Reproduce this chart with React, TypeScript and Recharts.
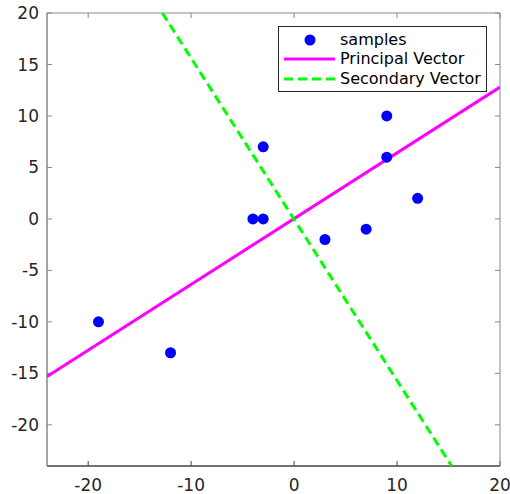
import { Scatter, ScatterChart, XAxis, YAxis } from 'recharts';

const sampleX = [-19, -12, -4, -3, -3, 3, 7, 9, 9, 12];
const sampleY = [-10, -13, 0, 0, 7, -2, -1, 6, 10, 2];
const principalX = [-24, 20];
const principalY = [-15.3, 12.8];
const secondaryX = [-12.8, 15.3];
const secondaryY = [20, -24];
const xTicks = [-20, -10, 0, 10, 20];
const yTicks = [-20, -15, -10, -5, 0, 5, 10, 15, 20];

const samples = sampleX.map((x, i) => ({ x, y: sampleY[i] }));
const principal = principalX.map((x, i) => ({ x, y: principalY[i] }));
const secondary = secondaryX.map((x, i) => ({ x, y: secondaryY[i] }));

const FONT = 'DejaVu Sans, sans-serif';
const tickStyle = { fontSize: 17, fill: '#262626', fontFamily: FONT };
const noLabel = () => <g />;
const noShape = () => <g />;

function Dot(props: { cx?: number; cy?: number }) {
  if (props.cx == null || props.cy == null) return null;
  return <circle cx={props.cx} cy={props.cy} r={5.5} fill="#0000ff" />;
}

function LegendBox() {
  const row = { display: 'flex', alignItems: 'center', height: 19.5 };
  return (
    <div
      style={{
        position: 'absolute',
        left: 278,
        top: 26,
        boxSizing: 'border-box',
        border: '1px solid #262626',
        background: '#fff',
        width: 209,
        height: 66,
        padding: '3px 0',
        fontFamily: FONT,
        fontSize: 16,
        color: '#000',
        lineHeight: 1,
      }}
    >
      <div style={row}>
        <svg width={61} height={14}>
          <circle cx={31} cy={7} r={5.5} fill="#0000ff" />
        </svg>
        <span>samples</span>
      </div>
      <div style={row}>
        <svg width={61} height={14}>
          <line x1={5} x2={56} y1={7} y2={7} stroke="#ff00ff" strokeWidth={3} />
        </svg>
        <span>Principal Vector</span>
      </div>
      <div style={row}>
        <svg width={61} height={14}>
          <line
            x1={5}
            x2={56}
            y1={7}
            y2={7}
            stroke="#00ff00"
            strokeWidth={3}
            strokeDasharray="9 5"
          />
        </svg>
        <span>Secondary Vector</span>
      </div>
    </div>
  );
}

export default function App() {
  return (
    <div
      style={{
        position: 'absolute',
        left: 0,
        top: 0,
        width: 510,
        height: 494,
        background: '#fff',
        overflow: 'hidden',
      }}
    >
      <ScatterChart
        width={510}
        height={494}
        margin={{ top: 13, right: 10, left: 0, bottom: 0 }}
      >
        <XAxis
          xAxisId="b"
          type="number"
          dataKey="x"
          domain={[-24, 20]}
          ticks={xTicks}
          allowDataOverflow
          height={28}
          tickLine={false}
          tickMargin={7}
          tick={tickStyle}
          stroke="#444"
        />
        <XAxis
          xAxisId="bm"
          type="number"
          dataKey="x"
          domain={[-24, 20]}
          ticks={xTicks}
          allowDataOverflow
          height={28}
          mirror
          tickSize={5}
          tick={noLabel}
          stroke="#444"
        />
        <XAxis
          xAxisId="t"
          orientation="top"
          type="number"
          dataKey="x"
          domain={[-24, 20]}
          ticks={xTicks}
          allowDataOverflow
          height={28}
          mirror
          tickSize={5}
          tick={noLabel}
          stroke="#888"
        />
        <YAxis
          yAxisId="l"
          type="number"
          dataKey="y"
          domain={[-24, 20]}
          ticks={yTicks}
          allowDataOverflow
          width={47}
          tickLine={false}
          tickMargin={2}
          tick={tickStyle}
          stroke="#888"
        />
        <YAxis
          yAxisId="lm"
          type="number"
          dataKey="y"
          domain={[-24, 20]}
          ticks={yTicks}
          allowDataOverflow
          width={20}
          mirror
          tickSize={5}
          tick={noLabel}
          stroke="#888"
        />
        <YAxis
          yAxisId="r"
          orientation="right"
          type="number"
          dataKey="y"
          domain={[-24, 20]}
          ticks={yTicks}
          allowDataOverflow
          width={20}
          mirror
          tickSize={5}
          tick={noLabel}
          stroke="#888"
        />
        <Scatter
          xAxisId="bm"
          yAxisId="lm"
          data={samples}
          shape={noShape}
          isAnimationActive={false}
        />
        <Scatter
          xAxisId="t"
          yAxisId="r"
          data={samples}
          shape={noShape}
          isAnimationActive={false}
        />
        <Scatter
          xAxisId="b"
          yAxisId="l"
          data={principal}
          line={{ stroke: '#ff00ff', strokeWidth: 3 }}
          lineType="joint"
          shape={noShape}
          isAnimationActive={false}
        />
        <Scatter
          xAxisId="b"
          yAxisId="l"
          data={secondary}
          line={{ stroke: '#00ff00', strokeWidth: 3, strokeDasharray: '9 5' }}
          lineType="joint"
          shape={noShape}
          isAnimationActive={false}
        />
        <Scatter
          xAxisId="b"
          yAxisId="l"
          data={samples}
          shape={<Dot />}
          isAnimationActive={false}
        />
      </ScatterChart>
      <LegendBox />
    </div>
  );
}
